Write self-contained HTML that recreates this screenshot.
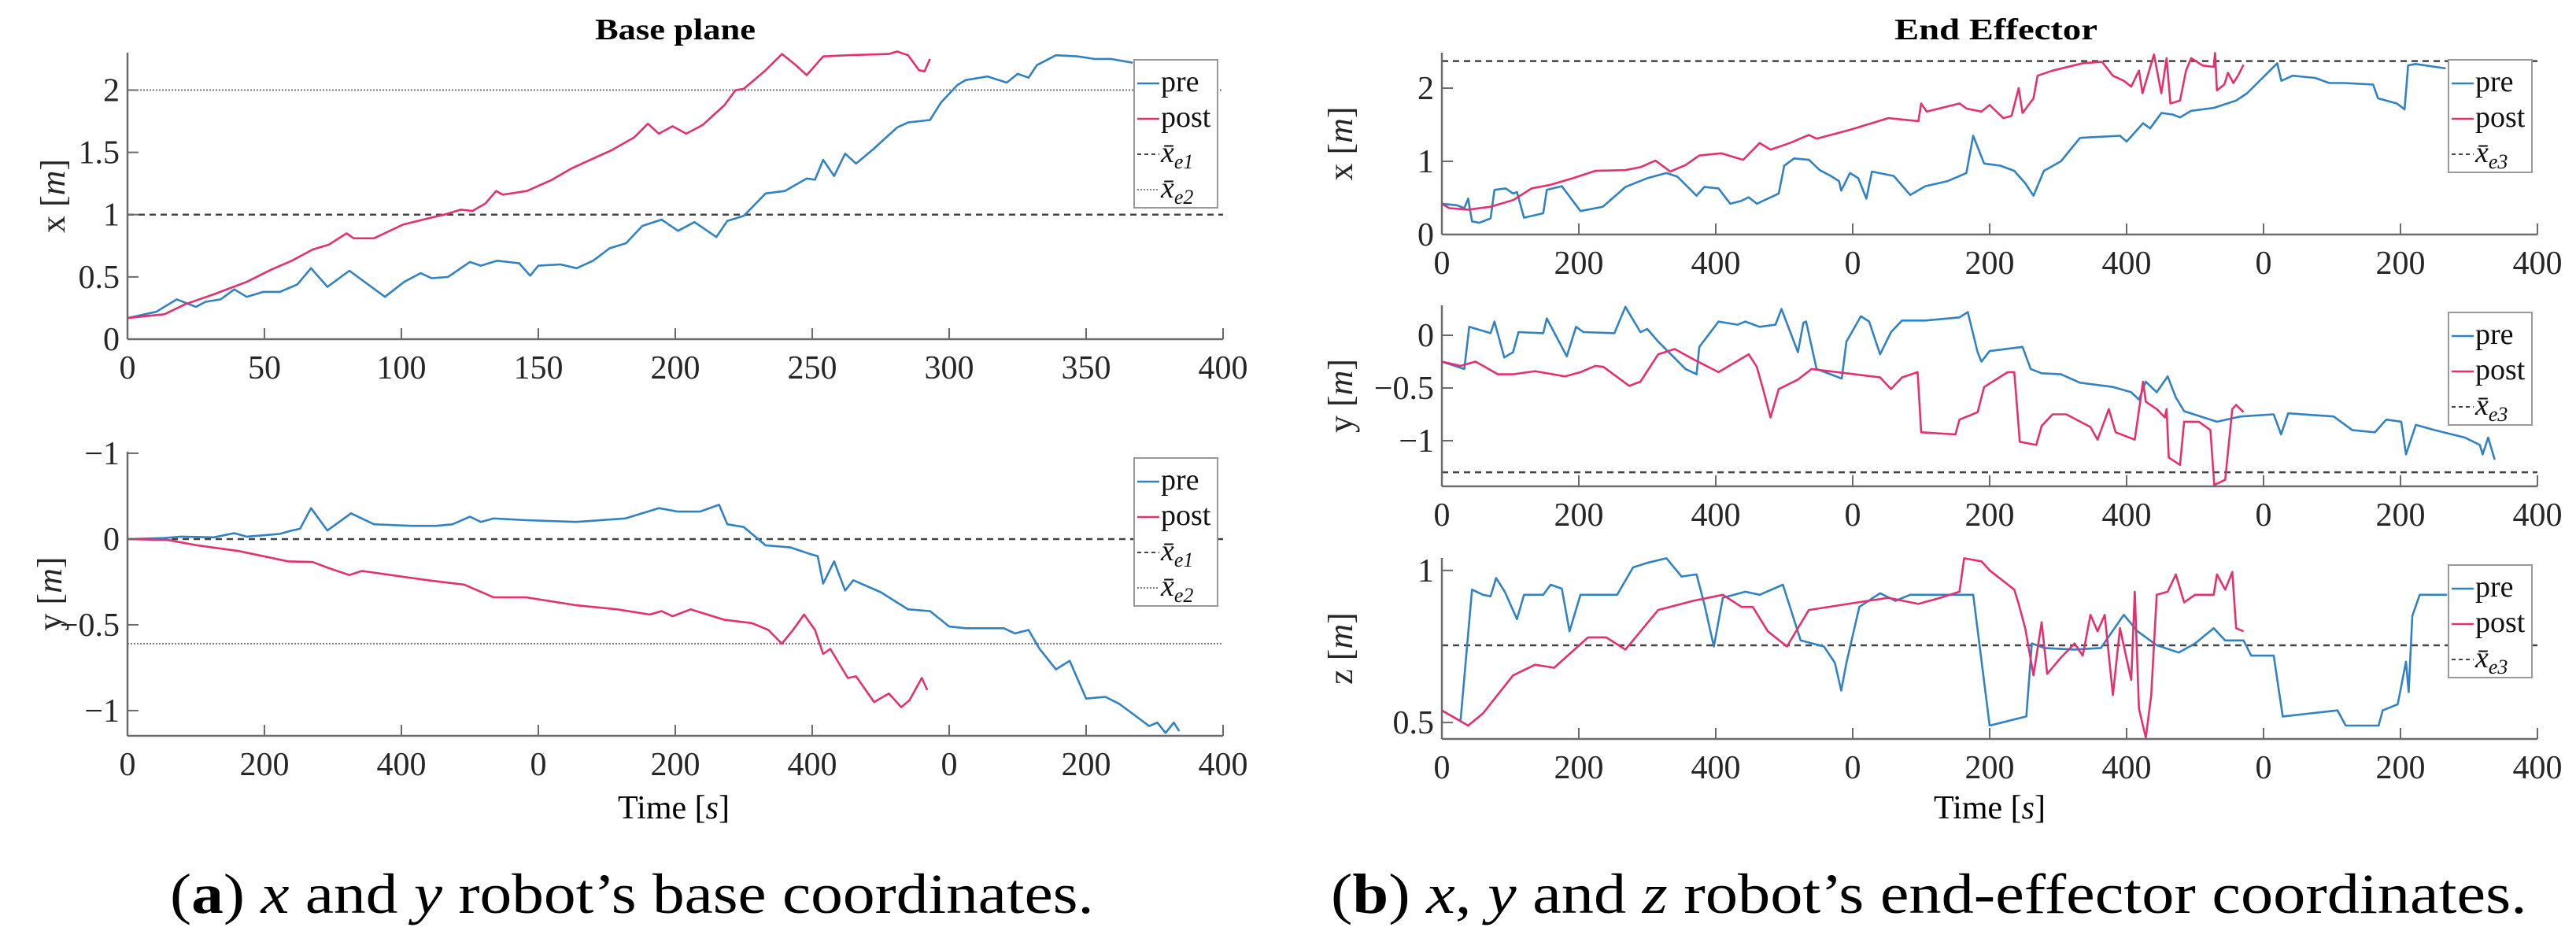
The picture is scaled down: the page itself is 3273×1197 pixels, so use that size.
<!DOCTYPE html>
<html><head><meta charset="utf-8"><style>
html,body{margin:0;padding:0;background:#fff;}
svg{display:block;font-family:"Liberation Serif",serif;}
</style></head><body>
<svg id="fig" width="3273" height="1197" viewBox="0 0 3273 1197" xmlns="http://www.w3.org/2000/svg">
<text x="858" y="50" font-size="38" font-weight="bold" text-anchor="middle" textLength="204" lengthAdjust="spacingAndGlyphs">Base plane</text>
<text x="2536" y="50" font-size="38" font-weight="bold" text-anchor="middle" textLength="258" lengthAdjust="spacingAndGlyphs">End Effector</text>
<text x="856" y="1040" font-size="42" text-anchor="middle">Time [<tspan font-style="italic">s</tspan>]</text>
<text x="2528" y="1040" font-size="42" text-anchor="middle">Time [<tspan font-style="italic">s</tspan>]</text>
<text id="capA" x="0" y="0" font-size="72" font-family="Liberation Serif, serif">(<tspan font-weight="bold">a</tspan>) <tspan font-style="italic">x</tspan> and <tspan font-style="italic">y</tspan> robot’s base coordinates.</text>
<text id="capB" x="0" y="0" font-size="72" font-family="Liberation Serif, serif">(<tspan font-weight="bold">b</tspan>) <tspan font-style="italic">x</tspan>, <tspan font-style="italic">y</tspan> and <tspan font-style="italic">z</tspan> robot’s end-effector coordinates.</text>
</svg>
<script>
// ---- data ----
const xTickValues = [0,50,100,150,200,250,300,350,400];
const xTickLabelsA = ["0","50","100","150","200","250","300","350","400"];
const xTickLabelsB = ["0","200","400","0","200","400","0","200","400"];

const basePreX = [[0,0.17],[10.5,0.22],[18,0.32],[25,0.26],[28.5,0.30],[34,0.32],[39,0.40],[43.5,0.34],[49.6,0.38],[55.6,0.38],[62,0.44],[67,0.57],[73,0.42],[81,0.55],[94,0.34],[101,0.46],[107,0.53],[111,0.49],[117,0.50],[125,0.62],[129,0.59],[135,0.63],[143,0.61],[147,0.51],[150,0.59],[158,0.60],[164,0.57],[170,0.63],[176,0.73],[182,0.77],[188,0.91],[195,0.96],[201,0.87],[207,0.94],[215,0.82],[219,0.95],[225,0.99],[233,1.17],[240,1.19],[248,1.29],[251,1.28],[254,1.44],[258,1.31],[262,1.49],[266,1.41],[272,1.52],[281,1.70],[285,1.74],[293,1.76],[297,1.90],[303,2.04],[306,2.08],[314,2.11],[321,2.06],[325,2.13],[329,2.10],[332,2.20],[339,2.28],[347,2.27],[353,2.25],[359,2.25],[367,2.22]];
const basePostX = [[0,0.17],[13.5,0.20],[21,0.28],[31.5,0.36],[43.5,0.46],[52.6,0.56],[60,0.63],[67.6,0.72],[73.6,0.76],[80,0.85],[82.6,0.81],[90,0.81],[100.6,0.92],[109.7,0.97],[115.7,1.00],[121.7,1.04],[126,1.03],[130.7,1.09],[134.6,1.19],[137,1.16],[145.8,1.19],[155,1.28],[162,1.37],[168,1.43],[177,1.52],[185,1.62],[190,1.73],[194,1.65],[199,1.71],[204,1.65],[210,1.72],[218,1.88],[222,2.0],[225,2.01],[233,2.16],[239,2.29],[244,2.20],[248,2.12],[254,2.27],[263,2.28],[278,2.29],[281,2.31],[285,2.28],[289,2.16],[291,2.15],[293,2.25]];
const basePreY = [[0,0],[13.5,0.006],[19.5,0.014],[31.5,0.01],[39,0.034],[43.5,0.014],[55.6,0.03],[60,0.05],[63,0.06],[67,0.18],[73,0.05],[81.6,0.15],[90,0.086],[103.7,0.077],[112.7,0.077],[118.7,0.086],[125,0.13],[129,0.10],[133.7,0.12],[145.7,0.11],[163.8,0.10],[181.8,0.12],[194,0.18],[201,0.16],[209,0.16],[216,0.20],[219,0.086],[225,0.07],[233,-0.037],[242,-0.049],[249,-0.086],[252,-0.1],[254,-0.26],[258,-0.13],[262,-0.30],[265,-0.24],[275,-0.31],[281,-0.37],[285,-0.41],[293,-0.42],[300,-0.51],[306,-0.52],[320,-0.52],[324,-0.55],[329,-0.53],[333,-0.64],[339,-0.76],[344,-0.71],[350,-0.93],[357,-0.92],[362,-0.96],[368,-1.03],[373,-1.09],[376,-1.07],[379,-1.13],[382,-1.07],[384,-1.12]];
const basePostY = [[0,0],[15,-0.006],[25.5,-0.037],[40.6,-0.07],[58.6,-0.13],[67.6,-0.134],[73.6,-0.17],[81,-0.21],[85.6,-0.186],[100.6,-0.22],[109.7,-0.24],[123,-0.266],[133.7,-0.34],[145.7,-0.34],[163.8,-0.386],[178.8,-0.41],[190.7,-0.44],[195,-0.42],[199,-0.45],[205.6,-0.41],[217.7,-0.47],[228,-0.49],[234,-0.53],[238.9,-0.61],[243,-0.53],[247,-0.44],[251,-0.53],[254,-0.67],[256.6,-0.64],[263,-0.81],[266,-0.80],[272.6,-0.95],[278,-0.90],[282.5,-0.98],[285.5,-0.94],[290,-0.81],[292,-0.88]];

const eePreX = [[0,0.42],[5.5,0.40],[8.2,0.36],[9.6,0.49],[11,0.18],[13.7,0.16],[17.8,0.22],[19.2,0.61],[23.3,0.63],[26,0.56],[27.4,0.58],[30,0.23],[37,0.29],[38.3,0.61],[43.8,0.66],[50.6,0.32],[58.8,0.38],[64.3,0.56],[67,0.65],[75,0.77],[82,0.84],[86,0.79],[93,0.53],[95.8,0.65],[101,0.63],[105.3,0.42],[109.4,0.46],[112,0.51],[115,0.42],[123,0.56],[125,0.94],[128.6,1.04],[134,1.02],[138,0.88],[142,0.80],[145,0.73],[145.8,0.60],[149,0.84],[152,0.77],[155,0.49],[157,0.86],[165,0.80],[171,0.54],[176.5,0.66],[184.7,0.73],[191.5,0.84],[194,1.35],[198,0.97],[204,0.94],[209,0.87],[213,0.70],[216,0.53],[219.8,0.87],[226,1.0],[233,1.32],[247.6,1.35],[250,1.27],[256,1.52],[258.6,1.45],[262.7,1.66],[266.8,1.64],[269.5,1.60],[273.6,1.69],[281.8,1.73],[290,1.83],[294,1.93],[305,2.34],[306.5,2.10],[310.6,2.17],[318.8,2.14],[324,2.07],[329.6,2.07],[340,2.05],[341.8,1.86],[348.7,1.79],[351.5,1.71],[352.8,2.31],[355.5,2.33],[366.5,2.27]];
const eePostX = [[0,0.42],[2.7,0.36],[9.6,0.34],[17.8,0.38],[26,0.47],[32.8,0.63],[39.7,0.68],[47.9,0.77],[56,0.87],[67,0.88],[72.5,0.92],[78,1.01],[83.4,0.86],[89,0.95],[94,1.08],[102,1.11],[110,1.02],[116,1.25],[120,1.16],[127,1.25],[134,1.36],[136.8,1.31],[149,1.43],[163,1.59],[174,1.55],[175,1.79],[177,1.68],[189,1.79],[191.6,1.72],[197,1.68],[200,1.77],[205,1.59],[208,1.62],[210.6,2.0],[212,1.66],[216,1.86],[217.5,2.17],[223,2.24],[234,2.34],[241,2.36],[245,2.17],[249,2.10],[251.7,2.02],[254.5,2.24],[255.8,1.93],[260,2.46],[262.7,1.93],[264.6,2.41],[266,1.79],[269.5,1.83],[271.7,2.24],[273.6,2.41],[277.7,2.31],[281.8,2.29],[282.3,2.48],[283,1.97],[285.7,2.05],[287,2.21],[289,2.07],[290.7,2.17],[292.7,2.32]];
const eePreY = [[0,-0.25],[8.2,-0.32],[10,0.08],[17.8,0.02],[19.2,0.13],[22.8,-0.21],[26,-0.16],[28,0.03],[37,0.02],[38.3,0.16],[45.6,-0.20],[49,0.08],[51.7,0.03],[63,0.02],[67,0.27],[72.5,0.03],[75,0.06],[79,-0.06],[89,-0.32],[93,-0.37],[94,-0.11],[101,0.13],[108,0.10],[110.8,0.13],[116,0.08],[121.8,0.10],[124,0.25],[130,-0.16],[132,0.12],[133,0.13],[136.8,-0.32],[146,-0.41],[147.7,-0.06],[153,0.18],[156,0.13],[160,-0.18],[164,0.03],[168,0.14],[176.5,0.14],[189,0.17],[192,0.22],[195.6,-0.16],[197,-0.25],[200,-0.15],[212,-0.11],[215,-0.32],[219,-0.36],[226,-0.37],[233,-0.45],[245,-0.49],[251.7,-0.54],[254.5,-0.61],[257,-0.44],[261,-0.54],[265,-0.39],[268,-0.59],[271,-0.72],[283,-0.82],[291.7,-0.77],[303.7,-0.75],[306.4,-0.94],[309,-0.74],[325.6,-0.77],[332.4,-0.90],[340.7,-0.92],[344.8,-0.80],[350.3,-0.82],[352,-1.13],[355.6,-0.85],[362.6,-0.90],[373.5,-0.97],[379,-1.04],[380,-1.13],[382,-0.97],[384.4,-1.18]];
const eePostY = [[0,-0.25],[6.8,-0.29],[12.3,-0.25],[20.5,-0.37],[26,-0.37],[34,-0.34],[45,-0.39],[50.6,-0.35],[56,-0.29],[59,-0.30],[68.4,-0.48],[72.5,-0.44],[79,-0.18],[85,-0.13],[92,-0.23],[101,-0.35],[112,-0.18],[115,-0.30],[117.6,-0.54],[120,-0.78],[123,-0.51],[130,-0.42],[135,-0.32],[147.7,-0.36],[160,-0.40],[164,-0.51],[168,-0.40],[173.7,-0.35],[175,-0.92],[187.5,-0.94],[189,-0.80],[195.6,-0.73],[198,-0.49],[206.6,-0.35],[209,-0.35],[211,-1.01],[217,-1.04],[219,-0.86],[223,-0.75],[228,-0.75],[236.8,-0.87],[239.4,-0.99],[243.5,-0.70],[246,-0.92],[253,-0.99],[256,-0.44],[257,-0.63],[261,-0.70],[264,-0.78],[264.6,-0.70],[265.4,-1.16],[269.5,-1.23],[271,-0.82],[276.4,-0.82],[280.6,-0.90],[282,-1.42],[286,-1.37],[288.6,-0.70],[290,-0.66],[292.7,-0.73]];
const eePreZ = [[0,0.54],[6.8,0.505],[11,0.937],[15,0.92],[17.8,0.915],[19.8,0.975],[23,0.93],[27.4,0.84],[30,0.92],[37,0.92],[39.7,0.953],[43.8,0.94],[46.6,0.80],[50.6,0.92],[64,0.92],[69.8,1.01],[75,1.025],[82,1.04],[87.5,0.98],[93,0.987],[95.8,0.89],[99.3,0.75],[102.6,0.91],[110.8,0.93],[116,0.92],[124.5,0.953],[131,0.77],[139.5,0.75],[143.5,0.696],[145.8,0.605],[147.7,0.696],[152.4,0.88],[160,0.925],[165.6,0.90],[171,0.92],[189,0.92],[194,0.92],[200,0.49],[213.4,0.52],[215.4,0.76],[220,0.745],[231,0.74],[240.6,0.745],[249,0.854],[254,0.80],[261,0.754],[269,0.73],[275,0.76],[281.8,0.81],[286,0.77],[292.7,0.77],[295.5,0.72],[303.7,0.72],[307,0.52],[327,0.54],[330,0.49],[342,0.49],[343.5,0.54],[349,0.56],[352,0.70],[353,0.60],[354.3,0.85],[357,0.92],[367,0.92]];
const eePostZ = [[0,0.54],[9.6,0.49],[15,0.53],[26,0.655],[34,0.69],[41,0.68],[53.4,0.78],[60,0.78],[67,0.74],[79,0.87],[91.7,0.90],[102.6,0.92],[109.4,0.88],[113.5,0.88],[119,0.80],[126,0.75],[134,0.87],[152,0.895],[163,0.91],[174,0.89],[182,0.91],[189,0.93],[190.7,1.04],[197,1.03],[200,1.0],[209,0.937],[210.6,0.89],[213,0.81],[216,0.655],[219,0.83],[221,0.66],[225.7,0.71],[231,0.76],[234,0.72],[236.8,0.854],[239.4,0.80],[242,0.854],[245,0.59],[247.6,0.81],[251.7,0.64],[253,0.93],[254.5,0.546],[257,0.45],[259,0.59],[261,0.92],[265,0.93],[268,0.987],[271,0.895],[275,0.92],[281.8,0.92],[283,0.987],[286,0.937],[288.6,0.995],[290,0.81],[292.7,0.80]];

const refXe1Base = [1, 0];
const refXe2Base = [2, -0.61];
const refXe3 = [2.37, -1.30, 0.754];

// ---- drawing ----
const NS = "http://www.w3.org/2000/svg";
const svg = document.getElementById("fig");
const BLUE = "#3182c3", PINK = "#e5306f", AX = "#6b6b6b", TXT = "#262626";
function mk(tag, attrs, parent) {
  const e = document.createElementNS(NS, tag);
  for (const k in attrs) e.setAttribute(k, attrs[k]);
  (parent || svg).appendChild(e);
  return e;
}
function panel(p) {
  const g = mk("g", {});
  
  
  const sx = t => p.x0 + (t - 0) / 400 * (p.x1 - p.x0);
  const sy = v => p.y1 - (v - p.ymin) / (p.ymax - p.ymin) * (p.y1 - p.y0);
  p.refs.forEach(r => {
    const l = mk("line", {x1: p.x0, x2: p.x1, y1: sy(r.v), y2: sy(r.v), stroke: r.dot ? "#777" : "#444", "stroke-width": r.dot ? 2 : 2.5, "stroke-dasharray": r.dot ? "2 2" : "8 6"}, g);
    
    
  });
  p.series.forEach(s => {
    const d = s.data.map((pt, i) => (i ? "L" : "M") + sx(pt[0]).toFixed(1) + " " + sy(pt[1]).toFixed(1)).join(" ");
    const path = mk("path", {d: d, fill: "none", stroke: s.color, "stroke-width": 2.6, "stroke-linejoin": "round"}, g);
    
    
  });
  const xa = mk("line", {x1: p.x0, x2: p.x1, y1: p.y1, y2: p.y1, stroke: AX, "stroke-width": 2.5}, g);
  
  
  const ya = mk("line", {x1: p.x0, x2: p.x0, y1: p.y0, y2: p.y1, stroke: AX, "stroke-width": 2.5}, g);
  
  
  xTickValues.forEach((t, i) => {
    mk("line", {x1: sx(t), x2: sx(t), y1: p.y1, y2: p.y1 - 14, stroke: AX, "stroke-width": 2}, g);
    const tl = mk("text", {x: sx(t), y: p.y1 + 50, "font-size": 42, "text-anchor": "middle", fill: TXT}, g);
    tl.textContent = p.xlabels[i];
    
    
  });
  p.yticks.forEach((v, i) => {
    mk("line", {x1: p.x0, x2: p.x0 + 14, y1: sy(v), y2: sy(v), stroke: AX, "stroke-width": 2}, g);
    const tl = mk("text", {x: p.x0 - 10, y: sy(v) + 14, "font-size": 42, "text-anchor": "end", fill: TXT}, g);
    tl.textContent = p.ylabels[i];
    
    
  });
  const cy = (p.y0 + p.y1) / 2;
  const yl = mk("text", {x: 0, y: 0, "font-size": 44, "text-anchor": "middle", fill: TXT, transform: "translate(" + p.ylx + "," + cy + ") rotate(-90)"}, g);
  yl.innerHTML = p.yname + ' [<tspan font-style="italic">m</tspan>]';
  
  
  const L = p.legend;
  const lg = mk("g", {}, g);
  
  
  mk("rect", {x: L.x, y: L.y, width: 106, height: L.entries.length * 45 + 8, fill: "#fff", stroke: "#999", "stroke-width": 2}, lg);
  L.entries.forEach((e, i) => {
    const yy = L.y + 30 + i * 45;
    mk("line", {x1: L.x + 4, x2: L.x + 32, y1: yy, y2: yy, stroke: e.color, "stroke-width": e.dash ? 2 : 2.6, "stroke-dasharray": e.dash || "none"}, lg);
    const t = mk("text", {x: L.x + 34, y: yy + 10, "font-size": 38, fill: "#111"}, lg);
    t.innerHTML = e.label;
    
    
  });
}
const xe = n => '<tspan font-style="italic">x̄</tspan><tspan font-size="26" font-style="italic" dy="8">e' + n + '</tspan>';
const legA = [{label: "pre", color: BLUE}, {label: "post", color: PINK}, {label: xe(1), color: "#444", dash: "5 4"}, {label: xe(2), color: "#777", dash: "2 2"}];
const legB = [{label: "pre", color: BLUE}, {label: "post", color: PINK}, {label: xe(3), color: "#444", dash: "5 4"}];

panel({name: "base-x-panel", x0: 162, x1: 1554, y0: 67, y1: 431, ymin: 0, ymax: 2.3, yticks: [0, 0.5, 1, 1.5, 2], ylabels: ["0", "0.5", "1", "1.5", "2"], xlabels: xTickLabelsA, ylx: 82, yname: "x",
  refs: [{v: refXe1Base[0], name: "xe1-line"}, {v: refXe2Base[0], dot: true, name: "xe2-line"}],
  series: [{data: basePreX, color: BLUE, name: "pre-line"}, {data: basePostX, color: PINK, name: "post-line"}],
  legend: {x: 1441, y: 76, entries: legA}});
panel({name: "base-y-panel", x0: 162, x1: 1554, y0: 574, y1: 935, ymin: -1.147, ymax: 0.509, yticks: [0.5, 0, -0.5, -1], ylabels: ["−1", "0", "−0.5", "−1"], xlabels: xTickLabelsB, ylx: 78, yname: "y",
  refs: [{v: refXe1Base[1], name: "xe1-line"}, {v: refXe2Base[1], dot: true, name: "xe2-line"}],
  series: [{data: basePreY, color: BLUE, name: "pre-line"}, {data: basePostY, color: PINK, name: "post-line"}],
  legend: {x: 1441, y: 582, entries: legA}});
panel({name: "ee-x-panel", x0: 1832, x1: 3224, y0: 67, y1: 298, ymin: 0, ymax: 2.484, yticks: [0, 1, 2], ylabels: ["0", "1", "2"], xlabels: xTickLabelsB, ylx: 1718, yname: "x",
  refs: [{v: refXe3[0], name: "xe3-line"}],
  series: [{data: eePreX, color: BLUE, name: "pre-line"}, {data: eePostX, color: PINK, name: "post-line"}],
  legend: {x: 3111, y: 76, entries: legB}});
panel({name: "ee-y-panel", x0: 1832, x1: 3224, y0: 388, y1: 618, ymin: -1.433, ymax: 0.284, yticks: [0, -0.5, -1], ylabels: ["0", "−0.5", "−1"], xlabels: xTickLabelsB, ylx: 1718, yname: "y",
  refs: [{v: refXe3[1], name: "xe3-line"}],
  series: [{data: eePreY, color: BLUE, name: "pre-line"}, {data: eePostY, color: PINK, name: "post-line"}],
  legend: {x: 3111, y: 397, entries: legB}});
panel({name: "ee-z-panel", x0: 1832, x1: 3224, y0: 709, y1: 939, ymin: 0.446, ymax: 1.041, yticks: [0.5, 1], ylabels: ["0.5", "1"], xlabels: xTickLabelsB, ylx: 1718, yname: "z",
  refs: [{v: refXe3[2], name: "xe3-line"}],
  series: [{data: eePreZ, color: BLUE, name: "pre-line"}, {data: eePostZ, color: PINK, name: "post-line"}],
  legend: {x: 3111, y: 718, entries: legB}});

// fit captions to reference widths
function fitCaption(id, left, width, baseline) {
  const t = document.getElementById(id);
  let w = 0;
  try { w = t.getBBox().width; } catch (e) { w = 0; }
  const s = w > 0 ? width / w : 1;
  t.setAttribute("transform", "translate(" + left + "," + baseline + ") scale(" + s.toFixed(4) + ",1)");
}
fitCaption("capA", 216, 1174, 1160);
fitCaption("capB", 1691, 1520, 1160);
</script>
</body></html>
